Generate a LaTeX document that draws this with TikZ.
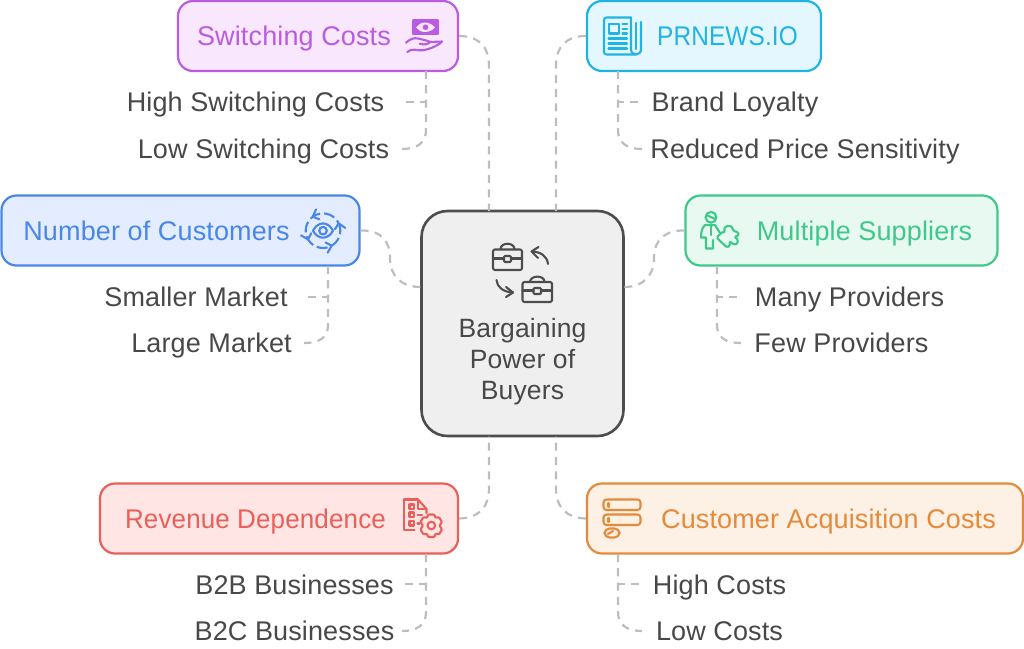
\documentclass[tikz,border=0pt]{standalone}
\usepackage{fontspec}
\setmainfont[LetterSpace=0.5]{Liberation Sans}
\usetikzlibrary{calc}
\definecolor{txt}{HTML}{484848}
\definecolor{dashc}{HTML}{BDBDBD}
\definecolor{pu}{HTML}{B95CE3}\definecolor{puf}{HTML}{F8E7FD}
\definecolor{cy}{HTML}{1FB4E4}\definecolor{cyf}{HTML}{E4F7FE}
\definecolor{bl}{HTML}{4A86E8}\definecolor{blf}{HTML}{E3EDFF}
\definecolor{gr}{HTML}{3EC98A}\definecolor{grf}{HTML}{E8F9F2}
\definecolor{re}{HTML}{E9605A}\definecolor{ref}{HTML}{FFE6E4}
\definecolor{or}{HTML}{E58A3A}\definecolor{orf}{HTML}{FDF0E4}
\definecolor{ce}{HTML}{4D4D4D}\definecolor{cef}{HTML}{EFEFEF}
\tikzset{
  topicbox/.style={draw=#1,fill=#1f,line width=2.2pt,rounded corners=15pt,inner sep=0pt},
  topic/.style={text=#1,inner sep=0pt,anchor=base,font=\fontsize{27}{30}\selectfont},
  leaf/.style={text=txt,inner sep=0pt,anchor=base,font=\fontsize{27}{30}\selectfont},
  conn/.style={draw=dashc,line width=2.2pt,dash pattern=on 8pt off 6.3pt},
  ic/.style={line width=2.1pt,line cap=round,line join=round,draw=#1},
}
\begin{document}
\begin{tikzpicture}[x=1pt,y=-1pt]
\useasboundingbox (0,0) rectangle (1024,648);
% boxes
\node[draw=ce,fill=cef,line width=2.6pt,rounded corners=26pt,minimum width=202pt,minimum height=225pt] (c) at (522.5,323.5) {};
\node[topicbox=pu,minimum width=280pt,minimum height=70pt] (sc) at (318,36) {};
\node[topicbox=cy,minimum width=234pt,minimum height=70pt] (pr) at (704,36) {};
\node[topicbox=bl,minimum width=358pt,minimum height=70pt] (nc) at (180.5,230.5) {};
\node[topicbox=gr,minimum width=312pt,minimum height=70pt] (ms) at (841.5,230.5) {};
\node[topicbox=re,minimum width=358pt,minimum height=70pt] (rd) at (279,518.5) {};
\node[topicbox=or,minimum width=436pt,minimum height=70pt] (ca) at (805,518.5) {};
% topic labels
\node[topic=pu] (tsc) at (294,45.5) {Switching Costs};
\node[topic=cy] (tpr) at (727.5,45.5) {\scalebox{.905}[1]{PRNEWS.IO}};
\node[topic=bl] (tnc) at (156.5,240) {Number of Customers};
\node[topic=gr] (tms) at (864.5,240) {Multiple Suppliers};
\node[topic=re] (trd) at (255.5,528) {\scalebox{.963}[1]{Revenue Dependence}};
\node[topic=or] (tca) at (828.5,528) {Customer Acquisition Costs};
% centre label
\node[text=txt,inner sep=0pt,align=center,anchor=base,font=\fontsize{26.5}{31}\selectfont] (tc) at (522.5,399) {Bargaining\\Power of\\Buyers};
% leaves
\node[leaf] (l1) at (255.5,111.5) {High Switching Costs};
\node[leaf] (l2) at (263.5,158) {Low Switching Costs};
\node[leaf] (l3) at (735,111.5) {Brand Loyalty};
\node[leaf] (l4) at (805,158) {Reduced Price Sensitivity};
\node[leaf] (l5) at (196,306) {Smaller Market};
\node[leaf] (l6) at (211.5,352.5) {Large Market};
\node[leaf] (l7) at (849.5,306) {Many Providers};
\node[leaf] (l8) at (841.5,352.5) {Few Providers};
\node[leaf] (l9) at (294.5,594) {B2B Businesses};
\node[leaf] (l10) at (294.5,640) {B2C Businesses};
\node[leaf] (l11) at (719.5,594) {High Costs};
\node[leaf] (l12) at (719.5,640) {Low Costs};
% free connector ends
\coordinate (cn1) at (489,211);\coordinate (cn2) at (556,211);
\coordinate (cs1) at (489,436);\coordinate (cs2) at (556,436);
\coordinate (cw) at (421,287);\coordinate (ce) at (624,287);
\coordinate (a1) at (426,71);\coordinate (a2) at (618,71);\coordinate (a3) at (328,266);
\coordinate (a4) at (717,266);\coordinate (a5) at (426,554);\coordinate (a6) at (618,554);
% main connectors
\draw[conn] (sc.east) .. controls (478,36) and (489,46) .. (489,66) -- (cn1);
\draw[conn] (pr.west) .. controls (567,36) and (556,46) .. (556,66) -- (cn2);
\draw[conn] (nc.east) .. controls (380,230) and (390,240) .. (390,258) .. controls (390,276) and (401,287) .. (cw);
\draw[conn] (ms.west) .. controls (665,230) and (654,240) .. (654,258) .. controls (654,276) and (643,287) .. (ce);
\draw[conn] (rd.east) .. controls (478,518) and (489,508) .. (489,488) -- (cs1);
\draw[conn] (ca.west) .. controls (567,518) and (556,508) .. (556,488) -- (cs2);
% leaf connectors
\draw[conn] (a1) -- (426,102) -- (402,102);
\draw[conn] (a1) -- (426,130) .. controls (426,143) and (417,149) .. (402,149);
\draw[conn] (a2) -- (618,102) -- (642,102);
\draw[conn] (a2) -- (618,130) .. controls (618,143) and (627,149) .. (642,149);
\draw[conn] (a3) -- (328,297) -- (304,297);
\draw[conn] (a3) -- (328,325) .. controls (328,338) and (319,343) .. (304,343);
\draw[conn] (a4) -- (717,297) -- (741,297);
\draw[conn] (a4) -- (717,325) .. controls (717,338) and (726,343) .. (741,343);
\draw[conn] (a5) -- (426,584) -- (402,584);
\draw[conn] (a5) -- (426,612) .. controls (426,625) and (417,631) .. (402,631);
\draw[conn] (a6) -- (618,584) -- (642,584);
\draw[conn] (a6) -- (618,612) .. controls (618,625) and (627,631) .. (642,631);
% icon: money on hand
\begin{scope}[ic=pu]
\draw[fill=pu] (413,20.5) rectangle (438,34);
\fill[puf] (425,22.5) .. controls (429,22.5) and (433,25) .. (435,27.5) .. controls (433,30) and (429,32) .. (425,32) .. controls (421,32) and (418,30) .. (416,27.5) .. controls (418,25) and (421,22.5) .. (425,22.5) -- cycle;
\fill[pu] (425.5,27.2) circle (2.8pt);
\draw (406,42.7) .. controls (410,39) and (414,37.5) .. (418,38.5) .. controls (422,39.5) and (428,40.5) .. (430,42) .. controls (428,44.5) and (424,45) .. (419.7,43.7);
\draw (430,42) -- (442,41.5) .. controls (438,46) and (428,49.5) .. (423,50.3) .. controls (417,51) and (412,47.5) .. (407.3,52);
\end{scope}
% icon: newspaper
\begin{scope}[ic=cy]
\draw[rounded corners=2.5pt] (631,17.5) -- (604,17.5) -- (604,54.5) -- (636,54.5);
\draw (631,17.5) -- (631,49) .. controls (631,52.5) and (633,54.5) .. (636,54.5) .. controls (639,54.5) and (641,52.5) .. (641,49) -- (641,22);
\draw (636,23) -- (636,49);
\draw (609,24) rectangle (619,33.5);
\draw (622.5,24) -- (627,24) (622.5,29) -- (627,29) (622.5,33.5) -- (627,33.5);
\draw (608.5,38.5) -- (627,38.5) (608.5,43.5) -- (627,43.5) (608.5,48.5) -- (627,48.5);
\end{scope}
% icon: eye with cycle
\begin{scope}[ic=bl]
\draw (313,230.7) .. controls (318,221) and (328,221) .. (333,230.7) .. controls (328,240) and (318,240) .. (313,230.7) -- cycle;
\draw (323,230.7) circle (3.8pt);
\draw[dash pattern=on 11pt off 4pt,line cap=butt] (323,230.7) circle (17.3pt);
\foreach \a in {234,150,60,-25}{
  \draw ($(323,230.7)+(\a+18:22.5)$) -- ($(323,230.7)+(\a:17.3)$) -- ($(323,230.7)+(\a+18:12)$);
}
\end{scope}
% icon: person and puzzle
\begin{scope}[ic=gr]
\draw (711,217.3) circle (5.4pt);
\draw (706.5,215) -- (715,219);
\draw (705,225) -- (715,225) -- (720,233);
\draw (705,225) .. controls (702,228) and (701,232) .. (701,237.5) -- (706,237.5) -- (706,248.5) -- (713,248.5) -- (713,240);
\draw (711,225) -- (711,235);
\draw[rounded corners=1.5pt] (716.5,237.5) -- (723,231.5) -- (725,232.5) .. controls (722,226) and (732,223) .. (733,231) -- (738,232) .. controls (739,235) and (738,236) .. (734,237) .. controls (739,239) and (738,244) .. (734,244.5) .. controls (732,243.5) and (731,242) .. (729,241.5) .. controls (730,244) and (730,246) .. (727,247.5) -- cycle;
\end{scope}
% icon: document and gear
\begin{scope}[ic=re]
\draw (418,499.5) -- (404,499.5) -- (404,530) -- (414.5,530);
\draw (418,499.5) -- (426.5,509) -- (426.5,513);
\draw (418,499.5) -- (418,509) -- (426.5,509);
\draw (409.5,504.5) rectangle (414,509);
\draw (409.5,512.5) rectangle (414,517);
\draw (409.5,521) rectangle (414,525.5);
\draw (417.5,515) -- (422,515);
\draw (417.5,523.5) -- (419.5,523.5);
\draw (431.3,525.5) circle (3.8pt);
\draw[rounded corners=1pt] (428,514.5) -- (434.5,514.5) -- (435.5,518) -- (439,517) -- (442,522) -- (439.5,525.5) -- (442,529.5) -- (439,534.5) -- (435.5,533.5) -- (434.5,537) -- (428,537) -- (427,533.5) -- (423.5,534.5) -- (420.5,529.5) -- (423,525.5) -- (420.5,522) -- (423.5,517) -- (427,518) -- cycle;
\end{scope}
% icon: rows
\begin{scope}[ic=or]
\draw[rounded corners=3pt] (603.5,499.5) rectangle (640.5,510);
\draw[rounded corners=3pt] (603.5,514.5) rectangle (640.5,525);
\draw[rounded corners=5pt] (604.5,528.5) rectangle (619.5,537.5);
\draw (608.5,503) -- (608.5,507) (608.5,518) -- (608.5,522);
\draw (608,534) -- (613,531);
\end{scope}
% icon: briefcases and arrows
\begin{scope}[ic=ce]
\draw[rounded corners=2pt] (493,249.5) rectangle (522,270);
\draw (493,258.5) -- (503,258.5) (512,258.5) -- (522,258.5);
\draw[rounded corners=1pt] (504,256) rectangle (511,262);
\draw (500.5,249) .. controls (501,242) and (514,242) .. (514.5,249);
\draw[rounded corners=2pt] (522.5,282) rectangle (552,302);
\draw (522.5,290.5) -- (533.5,290.5) (541,290.5) -- (552,290.5);
\draw[rounded corners=1pt] (533.5,288) rectangle (541,294);
\draw (530,281.5) .. controls (531,275) and (544,275) .. (544.5,281.5);
\draw (548,264) .. controls (547,256) and (541,252) .. (532,251.5);
\draw (538.5,247) -- (531.5,251.5) -- (538,258);
\draw (496.5,280) .. controls (497,287) and (503,292) .. (513,292.5);
\draw (506,287) -- (513,292.5) -- (506,297);
\end{scope}
\end{tikzpicture}
\end{document}
